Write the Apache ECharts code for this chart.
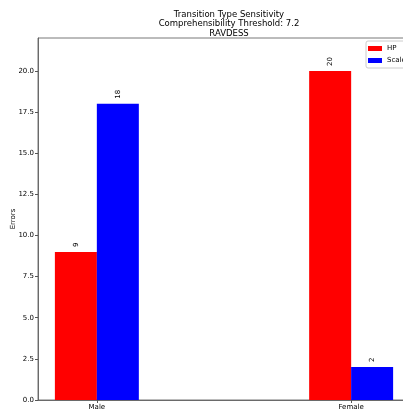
<!DOCTYPE html>
<html>
<head>
<meta charset="utf-8">
<script src="https://cdn.jsdelivr.net/npm/echarts@6/dist/echarts.min.js"></script>
<style>html,body{margin:0;padding:0;background:#fff}#c{width:403px;height:412px}</style>
</head>
<body>
<div id="c"></div>
<script>
const categories = ['Male', 'Female'];
const hpValues = [9, 20];
const scaleValues = [18, 2];
const seriesNames = ['HP', 'Scale'];
const yTicks = [0, 2.5, 5, 7.5, 10, 12.5, 15, 17.5, 20];
const titleLines = ['Transition Type Sensitivity', 'Comprehensibility Threshold: 7.2', 'RAVDESS'];

const barW = 0.165;
const xMin = -barW - 0.0665, xMax = categories.length - 1 + barW + 0.0665;
const catIdx = categories.map((c, i) => i);
const font = 'DejaVu Sans';

function mk(vals, off) { return vals.map((v, i) => [i + off, v]); }

const chart = echarts.init(document.getElementById('c'), null, {renderer: 'canvas'});
const labelCfg = {
  show: true, position: 'top', rotate: 90, distance: 5,
  align: 'left', verticalAlign: 'middle',
  fontSize: 7, fontFamily: font, color: '#000',
  formatter: p => String(p.value[1])
};
chart.setOption({
  animation: false,
  title: {
    text: titleLines.join('\n'), left: 224, top: 5, textAlign: 'center',
    textStyle: {fontSize: 8.5, fontWeight: 'normal', fontFamily: font, color: '#000', lineHeight: 9.5}
  },
  legend: {
    data: seriesNames, orient: 'vertical', left: 366, top: 41,
    itemWidth: 14, itemHeight: 5, itemGap: 5,
    padding: [4, 20, 4, 2], borderColor: '#cccccc', borderWidth: 1, borderRadius: 2,
    backgroundColor: '#fff',
    icon: 'rect',
    textStyle: {fontSize: 7, fontFamily: font, color: '#000', padding: [0, 0, 0, 0]}
  },
  grid: {left: 38, top: 38, right: -7, bottom: 12, show: true, borderColor: '#555', borderWidth: 0.8,
         backgroundColor: 'transparent', containLabel: false, outerBoundsMode: 'none'},
  xAxis: {
    type: 'value', min: xMin, max: xMax,
    axisLine: {show: true, onZero: false, lineStyle: {color: '#555', width: 0.8}},
    axisTick: {show: true, customValues: catIdx, length: 3, lineStyle: {color: '#555'}},
    axisLabel: {customValues: catIdx, formatter: v => categories[Math.round(v)], fontSize: 7, fontFamily: font, color: '#000', margin: 4},
    splitLine: {show: false}
  },
  yAxis: {
    type: 'value', min: 0, max: 22,
    name: 'Errors', nameLocation: 'middle', nameGap: 21, nameMoveOverlap: false,
    nameTextStyle: {fontSize: 7, fontFamily: font, color: '#000'},
    axisLine: {show: true, onZero: false, lineStyle: {color: '#555', width: 0.8}},
    axisTick: {show: true, customValues: yTicks, length: 3, lineStyle: {color: '#555'}},
    axisLabel: {customValues: yTicks, formatter: v => v.toFixed(1), fontSize: 7, fontFamily: font, color: '#000', margin: 4},
    splitLine: {show: false}
  },
  series: [
    {name: seriesNames[0], type: 'bar', data: mk(hpValues, -barW / 2), barWidth: 42, barGap: '-100%',
     itemStyle: {color: '#ff0000'}, label: labelCfg},
    {name: seriesNames[1], type: 'bar', data: mk(scaleValues, barW / 2), barWidth: 42, barGap: '-100%',
     itemStyle: {color: '#0000ff'}, label: labelCfg}
  ]
});
</script>
</body>
</html>
